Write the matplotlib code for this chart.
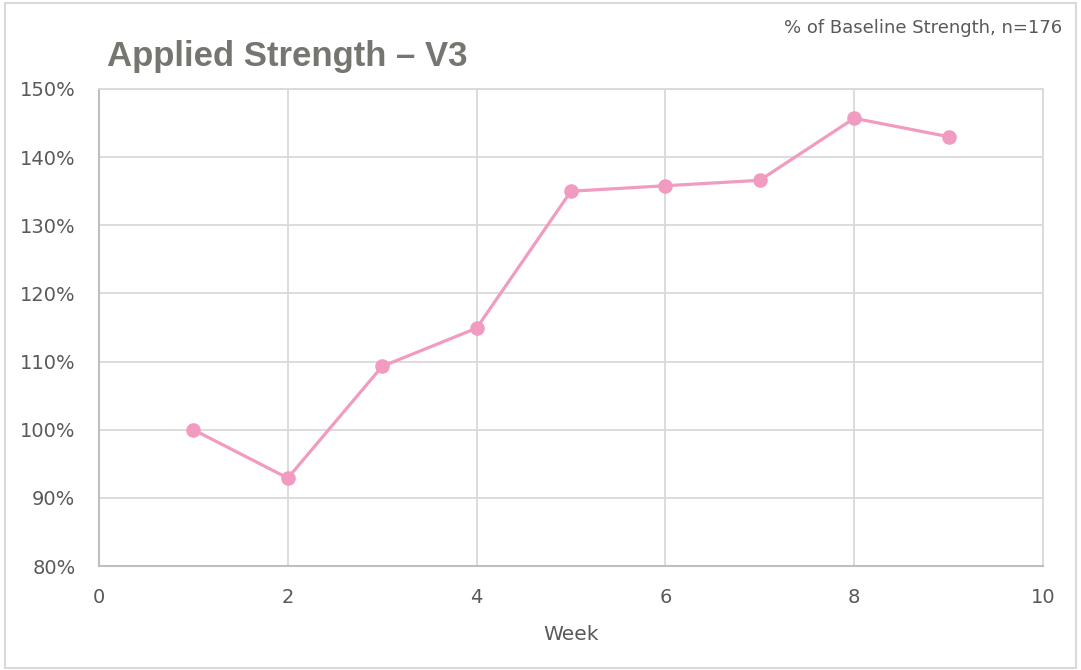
import numpy as np
import matplotlib.pyplot as plt
from matplotlib import font_manager as fm
from matplotlib.patches import Rectangle
from matplotlib.ticker import FuncFormatter

# data
weeks = [1, 2, 3, 4, 5, 6, 7, 8, 9]
strength_pct = [100.0, 92.9, 109.3, 114.9, 135.0, 135.8, 136.6, 145.7, 143.0]

x_ticks = [0, 2, 4, 6, 8, 10]
y_ticks = [80, 90, 100, 110, 120, 130, 140, 150]

PINK = "#f19bc1"
GRID = "#d9d9d9"
TEXT = "#595959"

# pick the regular-width Liberation Sans Bold (not the Narrow one)
title_font = None
for path in fm.findSystemFonts():
    if path.endswith("LiberationSans-Bold.ttf"):
        title_font = fm.FontProperties(fname=path)
        break
if title_font is None:
    title_font = fm.FontProperties(family="DejaVu Sans", weight="bold")
title_font.set_size(25)

fig = plt.figure(figsize=(10.81, 6.70), dpi=100)
ax = fig.add_axes([0.0916, 0.1552, 0.8732, 0.712])

ax.plot(weeks, strength_pct, color=PINK, lw=2.3, marker="o", ms=10.5,
        markeredgewidth=0, zorder=3, clip_on=False)

ax.set_xlim(0, 10)
ax.set_ylim(80, 150)
ax.set_xticks(x_ticks)
ax.set_yticks(y_ticks)
ax.yaxis.set_major_formatter(FuncFormatter(lambda v, p: f"{v:.0f}%"))

ax.grid(True, color=GRID, lw=1.3)
ax.set_axisbelow(True)
for side in ["top", "right"]:
    ax.spines[side].set_color(GRID)
    ax.spines[side].set_linewidth(1.3)
for side in ["left", "bottom"]:
    ax.spines[side].set_color("#bfbfbf")
    ax.spines[side].set_linewidth(1.5)

ax.tick_params(length=0, labelsize=14, colors=TEXT)
ax.tick_params(axis="y", pad=17)
ax.tick_params(axis="x", pad=16)
ax.set_xlabel("Week", fontsize=14.5, color=TEXT, labelpad=13)

fig.text(0.099, 0.9015, "Applied Strength – V3", fontproperties=title_font,
         color="#767670", ha="left", va="baseline")
fig.text(0.983, 0.958, "% of Baseline Strength, n=176", fontsize=13, color=TEXT,
         ha="right", va="center")

# light frame around the whole chart
fig.patches.append(Rectangle((0.005, 0.003), 0.99, 0.993, transform=fig.transFigure,
                             fill=False, edgecolor=GRID, lw=1.5))

fig.savefig("out.png", dpi=100)
